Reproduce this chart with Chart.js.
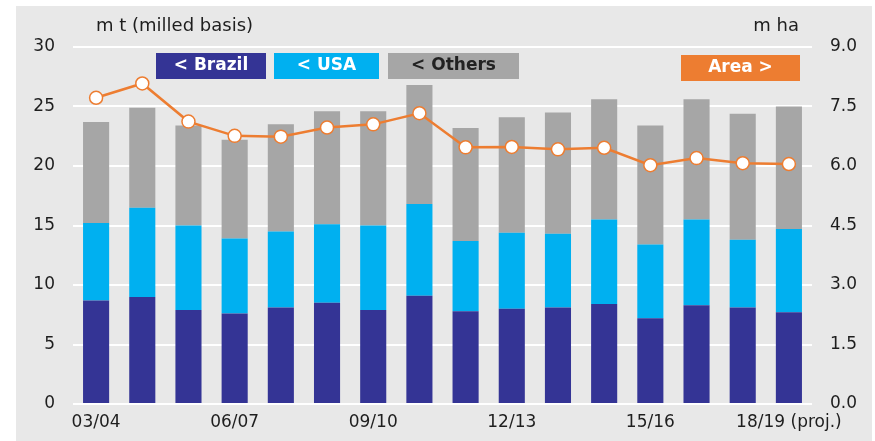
<!DOCTYPE html>
<html>
<head>
<meta charset="utf-8">
<script src="https://cdn.jsdelivr.net/npm/chart.js@4/dist/chart.umd.min.js"></script>
<style>
  body { margin: 0; background: #fff; }
  #wrap { width: 875px; height: 441px; }
</style>
</head>
<body>
<div id="wrap"><canvas id="myChart"></canvas></div>
<script>
const seasons = ['03/04', '04/05', '05/06', '06/07', '07/08', '08/09', '09/10', '10/11',
  '11/12', '12/13', '13/14', '14/15', '15/16', '16/17', '17/18', '18/19 (proj.)'];
// m t, milled basis
const brazil = [8.7, 9.0, 7.9, 7.6, 8.1, 8.5, 7.9, 9.1, 7.8, 8.0, 8.1, 8.4, 7.2, 8.3, 8.1, 7.7];
const usa    = [6.5, 7.5, 7.1, 6.3, 6.4, 6.6, 7.1, 7.7, 5.9, 6.4, 6.2, 7.1, 6.2, 7.2, 5.7, 7.0];
const others = [8.5, 8.4, 8.4, 8.3, 9.0, 9.5, 9.6, 10.0, 9.5, 9.7, 10.2, 10.1, 10.0, 10.1, 10.6, 10.3];
// m ha
const area = [7.72, 8.08, 7.12, 6.76, 6.74, 6.97, 7.05, 7.33, 6.47, 6.48, 6.42, 6.46, 6.02, 6.20, 6.07, 6.05];

const leftTicks = [0, 5, 10, 15, 20, 25, 30];
const rightTicks = [0, 1.5, 3.0, 4.5, 6.0, 7.5, 9.0];

const font = 'DejaVu Sans';
const textColor = '#1e1e1e';

// background panel, unit labels and the boxed legend
const decor = {
  id: 'decor',
  beforeDraw(chart) {
    const ctx = chart.ctx;
    ctx.save();
    ctx.fillStyle = '#fff';
    ctx.fillRect(0, 0, chart.width, chart.height);
    ctx.fillStyle = '#e8e8e8';
    ctx.fillRect(16, 6, 856, 435);
    ctx.restore();
  },
  afterDraw(chart) {
    const ctx = chart.ctx;
    ctx.save();
    ctx.font = '18px "' + font + '"';
    ctx.fillStyle = textColor;
    ctx.textBaseline = 'middle';
    ctx.textAlign = 'left';
    ctx.fillText('m t (milled basis)', 96, 26);
    ctx.textAlign = 'right';
    ctx.fillText('m ha', 799, 26);

    const boxes = [
      { text: '< Brazil', x: 156, w: 110, bg: '#343495', fg: '#fff' },
      { text: '< USA', x: 274, w: 105, bg: '#00b0f0', fg: '#fff' },
      { text: '< Others', x: 388, w: 131, bg: '#a6a6a6', fg: '#222' },
      { text: 'Area >', x: 681, w: 119, bg: '#ed7d31', fg: '#fff', y: 55 }
    ];
    ctx.font = 'bold 17px "' + font + '"';
    ctx.textAlign = 'center';
    boxes.forEach(b => {
      const y = b.y || 53;
      ctx.fillStyle = b.bg;
      ctx.fillRect(b.x, y, b.w, 26);
      ctx.fillStyle = b.fg;
      ctx.fillText(b.text, b.x + b.w / 2, y + 13);
    });
    ctx.restore();
  }
};

new Chart(document.getElementById('myChart').getContext('2d'), {
  data: {
    labels: seasons,
    datasets: [
      { type: 'line', label: 'Area', data: area, yAxisID: 'y2', order: 0,
        borderColor: '#ed7d31', borderWidth: 2.5, tension: 0,
        pointRadius: 6.5, pointBackgroundColor: '#fff',
        pointBorderColor: '#ed7d31', pointBorderWidth: 1.5 },
      { type: 'bar', label: 'Brazil', data: brazil, yAxisID: 'y', order: 1,
        backgroundColor: '#343495', barPercentage: 0.565, categoryPercentage: 1 },
      { type: 'bar', label: 'USA', data: usa, yAxisID: 'y', order: 1,
        backgroundColor: '#00b0f0', barPercentage: 0.565, categoryPercentage: 1 },
      { type: 'bar', label: 'Others', data: others, yAxisID: 'y', order: 1,
        backgroundColor: '#a6a6a6', barPercentage: 0.565, categoryPercentage: 1 }
    ]
  },
  options: {
    responsive: true,
    maintainAspectRatio: false,
    animation: false,
    layout: { padding: { top: 47, left: 0, right: 0, bottom: 0 } },
    plugins: {
      legend: { display: false },
      tooltip: { enabled: false }
    },
    scales: {
      x: {
        stacked: true,
        grid: { display: false, drawTicks: false },
        border: { display: false },
        afterFit: s => { s.height = 37; },
        ticks: {
          autoSkip: false, maxRotation: 0, padding: 8,
          color: textColor, font: { family: font, size: 17 },
          callback: function (v, i) { return i % 3 === 0 ? seasons[i] : ''; }
        }
      },
      y: {
        position: 'left', stacked: true, min: 0, max: 30,
        afterFit: s => { s.width = 73; },
        afterBuildTicks: s => { s.ticks = leftTicks.map(v => ({ value: v })); },
        grid: { color: '#fff', lineWidth: 2, drawTicks: false },
        border: { display: false },
        ticks: { padding: 18, color: textColor, font: { family: font, size: 17 } }
      },
      y2: {
        position: 'right', min: 0, max: 9,
        afterFit: s => { s.width = 63; },
        afterBuildTicks: s => { s.ticks = rightTicks.map(v => ({ value: v })); },
        grid: { display: false, drawTicks: false },
        border: { display: false },
        ticks: {
          padding: 18, color: textColor, font: { family: font, size: 17 },
          callback: v => v.toFixed(1)
        }
      }
    }
  },
  plugins: [decor]
});
</script>
</body>
</html>
